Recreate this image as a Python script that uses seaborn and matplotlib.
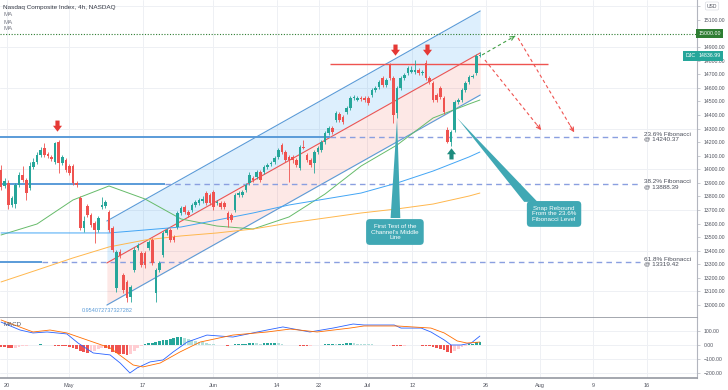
import numpy as np
import pandas as pd
import matplotlib
matplotlib.use("Agg")
import matplotlib.pyplot as plt
import seaborn as sns
from matplotlib.path import Path
from matplotlib.patches import Polygon
from matplotlib.ticker import MultipleLocator, FixedLocator, FuncFormatter
import matplotlib.transforms as mtransforms

# ---------------- data ----------------
opens = [13995, 13877, 13899, 13737, 13744, 13884, 13958, 13921, 13862, 14017,
         14054, 14105, 14157, 14113, 14091, 14054, 14201, 14046, 14068, 14024,
         14024, 13899, 13789, 13568, 13730, 13663, 13604, 13553, 13722, 13730,
         13685, 13568, 13126, 13391, 13221, 13170, 13059, 13258, 13420, 13383,
         13383, 13420, 13479, 13089, 13258, 13369, 13531, 13553, 13501, 13575,
         13678, 13722, 13685, 13700, 13737, 13752, 13766, 13825, 13811, 13833,
         13752, 13752, 13752, 13678, 13663, 13700, 13811, 13811, 13848, 13899,
         13936, 13943, 13980, 13980, 14017, 14039, 14054, 14091, 14179, 14127,
         14091, 14091, 14068, 14009, 14164, 14105, 14068, 14046, 14127, 14142,
         14201, 14267, 14304, 14363, 14407, 14385, 14422, 14451, 14525, 14510,
         14525, 14525, 14525, 14547, 14584, 14606, 14672, 14621, 14768, 14672,
         14415, 14599, 14672, 14709, 14717, 14717, 14731, 14709, 14783, 14672,
         14636, 14547, 14599, 14525, 14289, 14201, 14289, 14496, 14510, 14584,
         14643, 14680, 14709, 14834]
closes = [13870, 13914, 13737, 13789, 13884, 13958, 13921, 13825, 14024, 14054,
          14105, 14142, 14105, 14098, 14076, 14194, 14046, 14091, 13995, 13973,
          13899, 13884, 13568, 13619, 13663, 13590, 13553, 13641, 13737, 13759,
          13553, 13406, 13391, 13361, 13111, 13052, 13133, 13406, 13442, 13295,
          13295, 13464, 13310, 13258, 13310, 13531, 13553, 13479, 13479, 13678,
          13715, 13685, 13663, 13737, 13759, 13774, 13781, 13752, 13752, 13722,
          13759, 13722, 13722, 13626, 13626, 13811, 13825, 13833, 13884, 13958,
          13921, 13980, 13921, 14017, 14032, 14046, 14083, 14142, 14127, 14068,
          14068, 14068, 14032, 14164, 14157, 14068, 14032, 14127, 14157, 14201,
          14267, 14304, 14275, 14415, 14363, 14348, 14451, 14525, 14532, 14525,
          14518, 14510, 14488, 14584, 14599, 14643, 14621, 14658, 14672, 14400,
          14599, 14672, 14695, 14746, 14731, 14731, 14709, 14717, 14672, 14643,
          14510, 14510, 14532, 14422, 14201, 14275, 14496, 14510, 14584, 14636,
          14680, 14687, 14834, 14836.99]
highs = [14032, 13936, 13921, 13803, 13899, 13980, 14024, 13936, 14054, 14083,
         14127, 14164, 14194, 14127, 14105, 14201, 14216, 14105, 14083, 14039,
         14039, 13914, 13803, 13656, 13744, 13678, 13619, 13656, 13796, 13774,
         13700, 13582, 13406, 13413, 13236, 13185, 13148, 13428, 13457, 13398,
         13398, 13479, 13494, 13273, 13325, 13545, 13568, 13568, 13516, 13693,
         13730, 13737, 13700, 13752, 13774, 13789, 13803, 13840, 13825, 13848,
         13774, 13766, 13766, 13693, 13678, 13825, 13840, 13848, 13899, 13980,
         13951, 13995, 13995, 14032, 14046, 14061, 14098, 14157, 14194, 14142,
         14105, 14105, 14083, 14179, 14216, 14120, 14083, 14142, 14172, 14216,
         14282, 14319, 14319, 14429, 14422, 14400, 14466, 14540, 14547, 14540,
         14540, 14540, 14540, 14599, 14614, 14658, 14687, 14672, 14783, 14687,
         14614, 14687, 14709, 14761, 14761, 14805, 14746, 14731, 14805, 14687,
         14650, 14562, 14614, 14540, 14312, 14289, 14510, 14525, 14599, 14650,
         14695, 14702, 14849, 14864]
lows = [13848, 13862, 13708, 13722, 13715, 13870, 13906, 13774, 13848, 14002,
        14039, 14091, 14091, 14083, 14061, 14039, 13973, 14032, 13980, 13958,
        13884, 13870, 13553, 13538, 13649, 13575, 13457, 13538, 13708, 13715,
        13538, 13391, 13096, 13347, 13089, 13023, 13023, 13243, 13406, 13280,
        13273, 13406, 13295, 13023, 13243, 13354, 13516, 13464, 13464, 13560,
        13663, 13671, 13649, 13685, 13722, 13737, 13752, 13737, 13737, 13700,
        13737, 13708, 13708, 13575, 13612, 13685, 13796, 13796, 13833, 13884,
        13906, 13929, 13906, 13965, 14002, 14024, 14039, 14076, 14113, 14054,
        13906, 14046, 14017, 13995, 14149, 14054, 14017, 13973, 14113, 14127,
        14186, 14253, 14260, 14348, 14348, 14334, 14407, 14437, 14510, 14503,
        14503, 14496, 14474, 14532, 14569, 14591, 14606, 14606, 14658, 14341,
        14378, 14584, 14658, 14695, 14709, 14702, 14695, 14695, 14658, 14628,
        14496, 14496, 14518, 14407, 14194, 14172, 14275, 14481, 14496, 14569,
        14628, 14672, 14695, 14827]

# moving averages, read at sampled bars
ma_bars = [0, 10, 20, 30, 40, 50, 60, 70, 80, 90, 100, 110, 120, 130, 133]
ma_green = [13516, 13597, 13774, 13877, 13781, 13634, 13582, 13560, 13649, 13818,
            14024, 14179, 14378, 14481, 14510]
ma_blue = [13531, 13531, 13531, 13531, 13553, 13575, 13626, 13678, 13737, 13781,
           13825, 13899, 13987, 14091, 14127]
ma_orange = [13170, 13258, 13347, 13428, 13479, 13509, 13531, 13560, 13604, 13641,
             13678, 13708, 13744, 13803, 13825]

# MACD
macd_bars = [0, 5.3, 8.9, 12.8, 18.3, 21.4, 25.6, 30.3, 33.1, 35.8, 37.8, 41.4, 45,
             47.8, 51.7, 57.2, 64.4, 73.9, 78.3, 85.8, 92.2, 97.8, 100.8, 109.2,
             111.1, 116.7, 119.4, 123.1, 125, 127.8, 130.6, 133]
macd_line = [164, 107, 86, 93, 79, 14, -57, -71, -129, -200, -164, -121, -107,
             -50, 21, 71, 57, 107, 129, 93, 121, 150, 143, 143, 121, 121, 93, 36,
             0, 0, 14, 64]
signal_bars = [0, 8.9, 13.6, 18.3, 23.9, 30.3, 36.7, 39.4, 44.2, 49.7, 55.3, 64.4,
               73.9, 80.3, 87.8, 96.9, 100.8, 110, 119.4, 123.1, 126.7, 129.4, 133]
signal_line = [179, 93, 107, 86, 36, -21, -143, -157, -129, -50, 21, 71, 93, 114,
               93, 121, 136, 136, 121, 86, 29, 14, 21]
macd_hist = [-14, -16, -22, -25, -22, -15, -8, -5, -2, 0,
             3, 4, 3, 1, -3, -5, -6, -7, -9, -14,
             -22, -30, -45, -50, -55, -48, -40, -30, -18, -20,
             -32, -48, -58, -62, -65, -68, -62, -40, -22, -8,
             6, 12, 16, 20, 28, 33, 37, 40, 48, 56,
             58, 52, 42, 35, 30, 24, 18, 12, 7, 4,
             3, 2, -2, -4, 2, 6, 8, 10, 10, 12,
             14, 12, 10, 12, 13, 14, 14, 12, 6, 3,
             2, 1, -2, -4, -7, -8, -4, -1, 1, 3,
             6, 8, 9, 7, 8, 10, 12, 14, 12, 10,
             8, 6, 5, 4, 3, 3, 2, 1, -2, -4,
             -7, -9, -5, -3, -1, -2, -3, -4, -6, -9,
             -14, -20, -26, -34, -50, -58, -40, -28, -15, -6,
             4, 10, 18, 22]

# drawings
fib_levels = [14240.37, 13888.39, 13319.42]
fib_names = ["23.6% Fibonacci", "38.2% Fibonacci", "61.8% Fibonacci"]
resistance = 14776
round_level = 15000.00
last_price = 14836.99
channel_bars = [29.4, 133.1]
channel_upper = [13619, 15166]
channel_mid = [13310, 14857]
channel_lower = [13000, 14547]
channel_label = "0.954072737327282"

date_labels = ["20", "May", "17", "Jun", "14", "22", "Jul", "12", "26", "Aug", "9", "16"]
date_label_bars = [1.7, 18.9, 39.4, 58.9, 76.7, 88.3, 101.7, 114.2, 134.7, 149.7, 164.4, 179.4]

# ---------------- style ----------------
sns.set_theme(style="white")
plt.rcParams['font.family'] = ['Liberation Sans', 'DejaVu Sans']

GREEN = '#26a69a'
RED = '#ef5350'
TXT = '#50535e'
GRID = '#eef0f4'
BLUE_LINE = '#5a9bd8'
DASH = '#8a9fe0'
CALLOUT = '#40a8b4'

W, H = 728, 390
fig = plt.figure(figsize=(W / 100, H / 100), dpi=100)
fig.patch.set_facecolor('white')
ax = fig.add_axes([0, 1 - 318 / H, 697 / W, 318 / H])
axm = fig.add_axes([0, 1 - 378 / H, 697 / W, 60 / H], sharex=ax)

XMIN, XMAX = -0.28, 193.3
ax.set_xlim(XMIN, XMAX)
ax.set_ylim(12904.6, 15246.8)
axm.set_ylim(-236, 193)

for a in (ax, axm):
    a.set_facecolor('white')
    for s in ('left', 'top'):
        a.spines[s].set_visible(False)
    a.spines['right'].set_color('#b2b5be')
    a.spines['right'].set_linewidth(0.8)
    a.spines['bottom'].set_color('#9598a1')
    a.spines['bottom'].set_linewidth(1.2)
    a.yaxis.tick_right()
    a.tick_params(axis='y', labelsize=3.7, colors=TXT, length=2.5, width=0.5,
                  pad=2, color='#b2b5be')
    for b in date_label_bars:
        a.axvline(b, color=GRID, lw=0.7, zorder=0)

# labels hidden behind the boxes (USD and the 15000 marker) are left blank
covered = {15000, 15200}
ax.yaxis.set_major_locator(MultipleLocator(100))
ax.yaxis.set_major_formatter(FuncFormatter(
    lambda v, p: '' if int(round(v)) in covered else f'{v:.2f}'))
ax.tick_params(axis='x', bottom=False, labelbottom=False)
for lvl in range(13100, 15300, 300):
    ax.axhline(lvl, color=GRID, lw=0.7, zorder=0)

axm.yaxis.set_major_locator(FixedLocator([-200, -100, 0, 100]))
axm.yaxis.set_major_formatter(matplotlib.ticker.StrMethodFormatter('{x:.2f}'))
for lvl in [-200, -100, 0, 100]:
    axm.axhline(lvl, color=GRID, lw=0.7, zorder=0)
axm.set_xticks(date_label_bars)
axm.set_xticklabels(date_labels)
axm.tick_params(axis='x', labelsize=4, colors=TXT, length=2, width=0.5, pad=1.5,
                color='#b2b5be')

# ---------------- channel ----------------
ax.fill_between(channel_bars, channel_mid, channel_upper, color='#2196f3', alpha=0.15,
                lw=0, zorder=1)
ax.fill_between(channel_bars, channel_lower, channel_mid, color='#f44336', alpha=0.12,
                lw=0, zorder=1)
ax.plot(channel_bars, channel_upper, color=BLUE_LINE, lw=0.8, zorder=2)
ax.plot(channel_bars, channel_lower, color=BLUE_LINE, lw=0.8, zorder=2)
ax.plot(channel_bars, channel_mid, color=RED, lw=0.8, zorder=2)
ax.text(channel_bars[0], 12960, channel_label, color=BLUE_LINE, fontsize=4,
        ha='center', va='center', zorder=3)

# ---------------- horizontal levels ----------------
solid_end = [91.4, 45.6, 11.4]
for lvl, se in zip(fib_levels, solid_end):
    ax.hlines(lvl, XMIN, se, color=BLUE_LINE, lw=1.4, zorder=2)
    ax.hlines(lvl, se, 177.5, color=DASH, lw=1.0, linestyles=(0, (4, 3)), zorder=2)
ax.hlines(resistance, 91.4, 152, color=RED, lw=1.0, zorder=2)
ax.axhline(round_level, color='#2e7d32', lw=0.8, ls=(0, (1, 1.5)), zorder=2)

# ---------------- moving averages ----------------
ma_df = pd.DataFrame({'bar': ma_bars, 'green': ma_green, 'blue': ma_blue,
                      'orange': ma_orange})
sns.lineplot(data=ma_df, x='bar', y='green', ax=ax, color='#66bb6a', lw=0.7, zorder=3)
sns.lineplot(data=ma_df, x='bar', y='blue', ax=ax, color='#42a5f5', lw=0.7, zorder=3)
sns.lineplot(data=ma_df, x='bar', y='orange', ax=ax, color='#ffb74d', lw=0.7, zorder=3)
ax.set_xlabel('')
ax.set_ylabel('')

# ---------------- candles ----------------
cdf = pd.DataFrame({'open': opens, 'high': highs, 'low': lows, 'close': closes})
cdf['bar'] = np.arange(len(cdf))
up = cdf['close'] >= cdf['open']
ccol = np.where(up, GREEN, RED)
ax.vlines(cdf['bar'], cdf['low'], cdf['high'], colors=ccol, lw=0.6, zorder=4)
body = (cdf['close'] - cdf['open']).abs().clip(lower=7)
ax.bar(cdf['bar'], body, bottom=np.minimum(cdf['open'], cdf['close']), width=0.72,
       color=ccol, lw=0, zorder=5)

# ---------------- block arrows ----------------
dverts = [(-0.3, 1), (0.3, 1), (0.3, 0.25), (0.65, 0.25), (0, -0.6), (-0.65, 0.25),
          (-0.3, 0.25), (-0.3, 1)]
codes = [Path.MOVETO] + [Path.LINETO] * 6 + [Path.CLOSEPOLY]
down_arrow = Path(dverts, codes)
up_arrow = Path([(x, -y) for x, y in dverts], codes)
for bx, by in [(15.6, 14312), (109.4, 14871), (118.3, 14871)]:
    ax.plot(bx, by, marker=down_arrow, ms=10, color='#e53935', mew=0, zorder=7)
ax.plot(125, 14127, marker=up_arrow, ms=10, color='#1e8c7e', mew=0, zorder=7)

# ---------------- projection arrows ----------------
def dashed_arrow(x0, y0, x1, y1, color):
    ax.plot([x0, x1], [y0, y1], color=color, lw=0.8, ls=(0, (3, 2.5)), zorder=6)
    ax.annotate('', xy=(x1, y1), xytext=(x0 + (x1 - x0) * 0.93, y0 + (y1 - y0) * 0.93),
                arrowprops=dict(arrowstyle='->', color=color, lw=0.8,
                                mutation_scale=7, shrinkA=0, shrinkB=0), zorder=6)

dashed_arrow(133.6, 14842, 142.8, 14982, '#43a047')
dashed_arrow(134.4, 14805, 150.0, 14289, RED)
dashed_arrow(143.6, 14967, 159.2, 14272, RED)

# ---------------- callouts ----------------
ax.add_patch(Polygon([[108.2, 13641], [110.9, 13641], [110.0, 14378]], closed=True,
                     fc=CALLOUT, ec='none', zorder=8))
ax.add_patch(Polygon([[145.3, 13760], [149.0, 13760], [126.7, 14378]], closed=True,
                     fc=CALLOUT, ec='none', zorder=8))
ax.text(109.4, 13538, "First Test of the\nChannel's Middle\nLine", color='white',
        fontsize=4.5, ha='center', va='center', linespacing=1.1, zorder=9,
        bbox=dict(boxstyle='round,pad=0.8,rounding_size=0.6', fc=CALLOUT, ec='none'))
ax.text(153.6, 13671, "Snap Rebound\nFrom the 23.6%\nFibonacci Level", color='white',
        fontsize=4.5, ha='center', va='center', linespacing=1.1, zorder=9,
        bbox=dict(boxstyle='round,pad=0.8,rounding_size=0.6', fc=CALLOUT, ec='none'))

# ---------------- fib labels ----------------
for lvl, name in zip(fib_levels, fib_names):
    ax.text(178.6, lvl, f"{name}\n@ {lvl:.2f}", color='#4a4e5a', fontsize=4.6,
            ha='left', va='center', linespacing=1.0, zorder=6)

# ---------------- price boxes on axis ----------------
tr = mtransforms.blended_transform_factory(ax.transAxes, ax.transData)
ax.text(1.002, round_level, f"{round_level:.2f}", transform=tr, color='white',
        fontsize=3.8, ha='left', va='center', clip_on=False, zorder=10,
        bbox=dict(boxstyle='square,pad=0.45', fc='#2e7d32', ec='none'))
ax.text(1.002, last_price, f"{last_price:.2f}", transform=tr, color='white',
        fontsize=3.8, ha='left', va='center', clip_on=False, zorder=10,
        bbox=dict(boxstyle='square,pad=0.45', fc=GREEN, ec='none'))
ax.text(0.998, last_price, "DJC", transform=tr, color='white', fontsize=3.8,
        ha='right', va='center', clip_on=False, zorder=10,
        bbox=dict(boxstyle='square,pad=0.45', fc=GREEN, ec='none'))

# ---------------- MACD ----------------
hist_df = pd.DataFrame({'bar': np.arange(len(macd_hist)), 'hist': macd_hist})
prev = hist_df['hist'].shift(1).fillna(hist_df['hist'])
hcol = np.where(hist_df['hist'] >= 0,
                np.where(hist_df['hist'] >= prev, GREEN, '#b2dfdb'),
                np.where(hist_df['hist'] <= prev, RED, '#ffcdd2'))
axm.bar(hist_df['bar'], hist_df['hist'], width=0.75, color=hcol, lw=0, zorder=2)
sns.lineplot(x=macd_bars, y=macd_line, ax=axm, color='#2962ff', lw=0.6, zorder=3)
sns.lineplot(x=signal_bars, y=signal_line, ax=axm, color='#ff6d00', lw=0.6, zorder=3)
axm.set_xlabel('')
axm.set_ylabel('')
axm.set_xlim(XMIN, XMAX)

# ---------------- header texts ----------------
fig.text(3 / W, 1 - 7 / H, "Nasdaq Composite Index, 4h, NASDAQ", fontsize=4.6,
         color='#363a45', ha='left', va='center')
for yy in (15, 22, 29):
    fig.text(3 / W, 1 - yy / H, "MA", fontsize=4.4, color='#787b86', ha='left',
             va='center')
fig.text(3 / W, 1 - 325 / H, "MACD", fontsize=4.4, color='#50535e', ha='left',
         va='center')
fig.text(712 / W, 1 - 6 / H, "USD", fontsize=3.6, color=TXT, ha='center', va='center',
         bbox=dict(boxstyle='round,pad=0.3', fc='white', ec='#d1d4dc', lw=0.4))

fig.savefig('out.png', dpi=100, facecolor='white')
